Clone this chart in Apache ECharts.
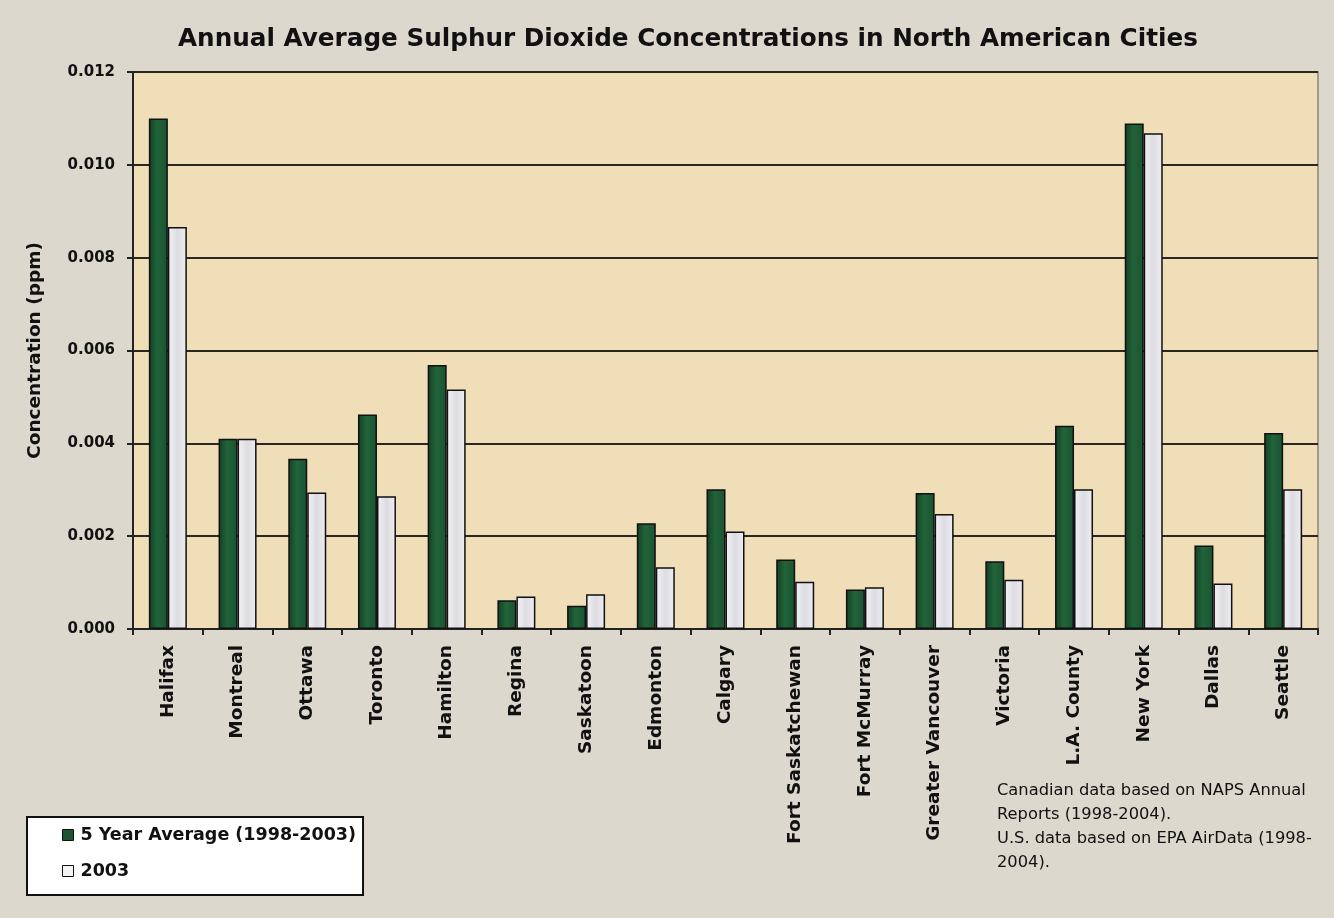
<!DOCTYPE html>
<html>
<head>
<meta charset="utf-8">
<script src="https://cdn.jsdelivr.net/npm/echarts@6/dist/echarts.min.js"></script>
<style>
html,body{margin:0;padding:0;background:#ddd8ce;}
#chart{width:1334px;height:918px;}
</style>
</head>
<body>
<div id="chart"></div>
<script>
const cities = ["Halifax","Montreal","Ottawa","Toronto","Hamilton","Regina","Saskatoon","Edmonton","Calgary","Fort Saskatchewan","Fort McMurray","Greater Vancouver","Victoria","L.A. County","New York","Dallas","Seattle"];
const fiveYearAvg = [0.0110,0.0041,0.00367,0.00462,0.00569,0.00062,0.00050,0.00228,0.00301,0.00150,0.00085,0.00293,0.00146,0.00438,0.01089,0.00180,0.00422];
const year2003 = [0.00866,0.0041,0.00294,0.00286,0.00516,0.00070,0.00075,0.00133,0.00210,0.00102,0.00090,0.00248,0.00106,0.00301,0.01068,0.00098,0.00301];
const yTicks = {min:0, max:0.012, interval:0.002};
const seriesNames = ["5 Year Average (1998-2003)","2003"];
const titleText = "Annual Average Sulphur Dioxide Concentrations in North American Cities";
const yAxisName = "Concentration (ppm)";
const footnote = "Canadian data based on NAPS Annual\nReports (1998-2004).\nU.S. data based on EPA AirData (1998-\n2004).";

const chart = echarts.init(document.getElementById('chart'));
const greenFill = new echarts.graphic.LinearGradient(0,0,1,0,[
  {offset:0,color:'#123f22'},{offset:0.45,color:'#22643a'},{offset:1,color:'#1a5230'}]);
const whiteFill = new echarts.graphic.LinearGradient(0,0,1,0,[
  {offset:0,color:'#f2f2f6'},{offset:0.5,color:'#dcdce2'},{offset:1,color:'#eeeef2'}]);

chart.setOption({
  backgroundColor:'#ddd8ce',
  animation:false,
  title:{
    text:titleText, left:173, top:22,
    textStyle:{fontFamily:'DejaVu Sans',fontWeight:'bold',fontSize:24.7,color:'#111'}
  },
  grid:{left:133,right:16,top:72,bottom:289,show:true,backgroundColor:'#efdeb8',borderColor:'#8c8478',borderWidth:1.5},
  legend:{
    orient:'vertical', left:27, top:817,
    backgroundColor:'#ffffff', borderColor:'#111', borderWidth:2,
    padding:[9,7,15,35], itemGap:18, itemWidth:11, itemHeight:11, icon:'rect',
    textStyle:{fontFamily:'DejaVu Sans',fontWeight:'bold',fontSize:17.5,color:'#111',padding:[0,0,0,2]},
    data:[
      {name:seriesNames[0],itemStyle:{color:'#1d5530',borderColor:'#111',borderWidth:1}},
      {name:seriesNames[1],itemStyle:{color:'#f4f4f6',borderColor:'#111',borderWidth:1}}
    ]
  },
  xAxis:{
    type:'category', data:cities,
    axisLine:{lineStyle:{color:'#222',width:2}},
    axisTick:{show:true,length:6,lineStyle:{color:'#222',width:2}},
    axisLabel:{rotate:90,interval:0,margin:16,fontFamily:'DejaVu Sans',fontWeight:'bold',fontSize:18.5,color:'#111'}
  },
  yAxis:{
    type:'value', min:yTicks.min, max:yTicks.max, interval:yTicks.interval,
    name:yAxisName, nameLocation:'middle', nameGap:88, nameRotate:90,
    nameTextStyle:{fontFamily:'DejaVu Sans',fontWeight:'bold',fontSize:18.5,color:'#111'},
    axisLine:{show:true,lineStyle:{color:'#222',width:2}},
    axisTick:{show:true,length:6,lineStyle:{color:'#222',width:2}},
    axisLabel:{margin:18,formatter:v=>v.toFixed(3),fontFamily:'DejaVu Sans',fontWeight:'bold',fontSize:15,color:'#111'},
    splitLine:{lineStyle:{color:'#2a2622',width:2}}
  },
  series:[
    {name:seriesNames[0],type:'bar',data:fiveYearAvg,barWidth:19,barGap:'0%',
     itemStyle:{color:greenFill,borderColor:'#111',borderWidth:1.5}},
    {name:seriesNames[1],type:'bar',data:year2003,barWidth:19,barGap:'0%',
     itemStyle:{color:whiteFill,borderColor:'#111',borderWidth:1.5}}
  ],
  graphic:[{
    type:'text', left:997, top:779,
    style:{text:footnote,fontFamily:'DejaVu Sans',fontSize:16.3,lineHeight:24,fill:'#111'}
  }]
});
</script>
</body>
</html>
